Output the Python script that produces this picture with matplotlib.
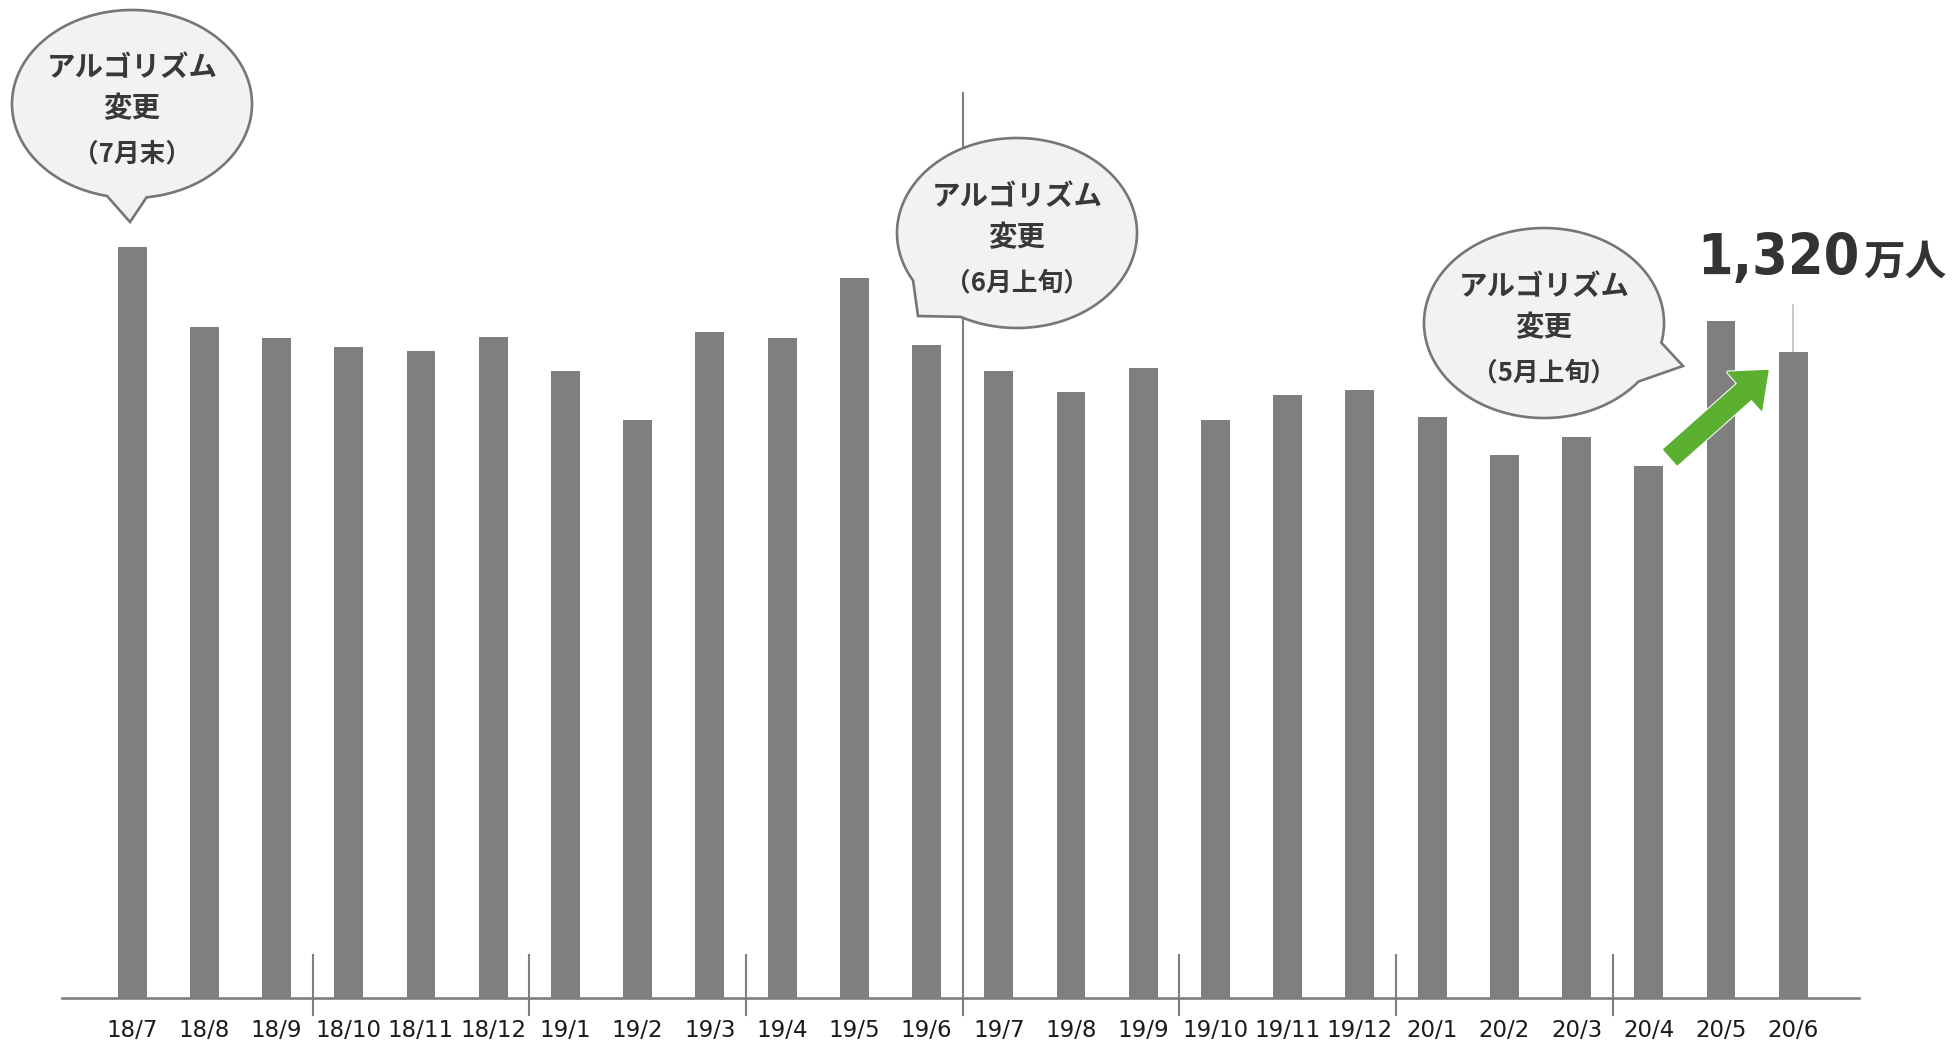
import numpy as np
import matplotlib
matplotlib.use("Agg")
import matplotlib.pyplot as plt
from matplotlib.patches import Polygon, FancyArrowPatch
import matplotlib.patheffects as pe

plt.rcParams['font.family'] = ['Noto Sans CJK JP', 'DejaVu Sans']

# monthly users (万人)
months = ["18/7", "18/8", "18/9", "18/10", "18/11", "18/12",
          "19/1", "19/2", "19/3", "19/4", "19/5", "19/6",
          "19/7", "19/8", "19/9", "19/10", "19/11", "19/12",
          "20/1", "20/2", "20/3", "20/4", "20/5", "20/6"]
users = [1534, 1371, 1348, 1330, 1322, 1350,
         1282, 1180, 1360, 1348, 1472, 1335,
         1282, 1238, 1287, 1180, 1231, 1243,
         1188, 1109, 1147, 1086, 1383, 1320]

# quarter separators and the fiscal-year separator (between bar slots)
quarter_marks = [2.5, 5.5, 8.5, 14.5, 17.5, 20.5]
year_mark = 11.5

# speech bubbles: (text lines, centre, radii, tail gap angles, tail tip) in pixels
bubbles = [
    (["アルゴリズム", "変更", "（7月末）"], (132, 104), (120, 94), (83, 102), (130, 222)),
    (["アルゴリズム", "変更", "（6月上旬）"], (1017, 233), (120, 95), (118, 150), (918, 316)),
    (["アルゴリズム", "変更", "（5月上旬）"], (1544, 323), (120, 95), (12, 38), (1683, 366)),
]

BAR = "#7f7f7f"
TXT = "#383838"

W, H = 1952, 1044
fig = plt.figure(figsize=(W / 100, H / 100), dpi=100)

base_y = 998
ax = fig.add_axes([62 / W, (H - base_y) / H, (1859 - 62) / W, base_y / H])
x = np.arange(len(months))
ax.bar(x, users, width=0.4, color=BAR, zorder=2)
ax.set_xlim(-0.97, 23.91)
ax.set_ylim(0, 2039)

for s in ["top", "left", "right"]:
    ax.spines[s].set_visible(False)
ax.spines["bottom"].set_color(BAR)
ax.spines["bottom"].set_linewidth(1.9)
ax.set_yticks([])
ax.set_xticks(x)
ax.set_xticklabels(months, fontsize=16.5, color="#1a1a1a", family="DejaVu Sans")
ax.tick_params(axis="x", length=0, pad=15)

for q in quarter_marks:
    ax.plot([q, q], [-35, 88], color=BAR, lw=1.5, clip_on=False, zorder=3)
ax.plot([year_mark, year_mark], [-35, 1850], color=BAR, lw=1.5, clip_on=False, zorder=1)

# leader line and value label for the latest month
last = len(users) - 1
top = users[last] + 95
ax.plot([last, last], [users[last], top], color="#bfbfbf", lw=1.2, zorder=1)
ax.annotate(f"{users[last]:,}", xy=(last, top), xytext=(48, 22),
            textcoords="offset points", fontsize=41, fontweight="bold",
            family="DejaVu Sans", fontstretch="condensed", color="#333333",
            ha="right", va="baseline")
ax.annotate("万人", xy=(last, top), xytext=(50, 22),
            textcoords="offset points", fontsize=30, fontweight="bold",
            color="#333333", ha="left", va="baseline")

# green rise arrow from 20/4 toward 20/6
arrow = FancyArrowPatch((21.3, 1105), (22.65, 1282),
                        arrowstyle="simple,head_length=1.6,head_width=2.6,tail_width=1.05",
                        mutation_scale=14, color="#5cb031", shrinkA=0, shrinkB=0,
                        zorder=5, clip_on=False)
arrow.set_path_effects([pe.Stroke(linewidth=2.5, foreground="white"), pe.Normal()])
ax.add_patch(arrow)

# overlay in pixel units for the callouts
ov = fig.add_axes([0, 0, 1, 1], zorder=10)
ov.set_xlim(0, W)
ov.set_ylim(H, 0)
ov.axis("off")
ov.patch.set_alpha(0)


def bubble_outline(c, r, gap, tip):
    a0, a1 = np.radians(gap[0]), np.radians(gap[1])
    t = np.linspace(a1, a0 + 2 * np.pi, 200)
    pts = np.column_stack([c[0] + r[0] * np.cos(t), c[1] + r[1] * np.sin(t)])
    return np.vstack([pts, tip])


for lines, c, r, gap, tip in bubbles:
    ov.add_patch(Polygon(bubble_outline(c, r, gap, tip), closed=True,
                         facecolor="#f2f2f2", edgecolor="#767676", lw=1.9, zorder=2))
    ov.text(c[0], c[1] - 36, lines[0], fontsize=20.5, fontweight="bold", color=TXT,
            ha="center", va="center", zorder=3)
    ov.text(c[0], c[1] + 5, lines[1], fontsize=20.5, fontweight="bold", color=TXT,
            ha="center", va="center", zorder=3)
    ov.text(c[0], c[1] + 50, lines[2], fontsize=18.5, fontweight="bold", color=TXT,
            ha="center", va="center", zorder=3)

fig.savefig("out.png", dpi=100, facecolor="white")
